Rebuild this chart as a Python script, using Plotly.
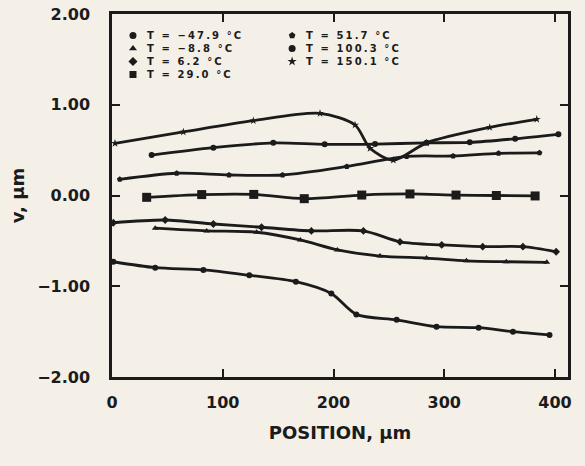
import plotly.graph_objects as go

# Position along the specimen (µm) and displacement v (µm) for each temperature
pos_m47 = [1.2, 39, 82.5, 124, 166, 198, 220.6, 257, 293, 331, 362, 395]
v_m47 = [-0.73, -0.795, -0.82, -0.88, -0.95, -1.08, -1.31, -1.37, -1.445, -1.457, -1.50, -1.537]

pos_m8 = [39, 85.5, 130.6, 170, 203.5, 242, 284, 320, 356, 392.5]
v_m8 = [-0.36, -0.39, -0.405, -0.49, -0.60, -0.667, -0.69, -0.72, -0.73, -0.736]

pos_6 = [1.2, 48, 91.5, 135, 180, 227, 260, 297.7, 334.7, 371, 401]
v_6 = [-0.30, -0.27, -0.314, -0.35, -0.39, -0.39, -0.51, -0.545, -0.564, -0.564, -0.62]

pos_29 = [31.3, 81, 128, 173.6, 225.5, 269, 310.6, 347, 382]
v_29 = [-0.02, 0.01, 0.012, -0.035, 0.005, 0.017, 0.005, 0.0, -0.005]

pos_51 = [7, 58.4, 105.6, 154, 212, 266, 308, 349, 386]
v_51 = [0.178, 0.245, 0.226, 0.226, 0.32, 0.43, 0.435, 0.465, 0.47]

pos_100 = [35.8, 91.5, 145.6, 192, 237.5, 284, 323, 364, 403]
v_100 = [0.446, 0.527, 0.58, 0.564, 0.567, 0.58, 0.586, 0.625, 0.674]

pos_150 = [2.7, 64.4, 127.6, 187.8, 219.4, 233, 254, 284, 341, 383.5]
v_150 = [0.575, 0.70, 0.824, 0.905, 0.777, 0.52, 0.39, 0.58, 0.75, 0.84]

labels = ["T = \u221247.9 \u00b0C", "T = \u22128.8 \u00b0C", "T = 6.2 \u00b0C", "T = 29.0 \u00b0C",
          "T = 51.7 \u00b0C", "T = 100.3 \u00b0C", "T = 150.1 \u00b0C"]
symbols = ["circle", "triangle-up", "diamond", "square", "pentagon", "circle", "star"]

x_ticks = [0, 100, 200, 300, 400]
y_ticks = [-2, -1, 0, 1, 2]

INK = "#1b1b1b"
BG = "#f4efe7"
FONT = "DejaVu Sans"

series = [(pos_m47, v_m47), (pos_m8, v_m8), (pos_6, v_6), (pos_29, v_29),
          (pos_51, v_51), (pos_100, v_100), (pos_150, v_150)]
marker_sizes = [6, 6, 6, 9, 6, 6, 6]

fig = go.Figure()
for (xs, ys), name, sym, ms in zip(series, labels, symbols, marker_sizes):
    fig.add_trace(go.Scatter(
        x=xs, y=ys, name=name, mode="lines+markers",
        line=dict(color=INK, width=2.8, shape="spline", smoothing=0.8),
        marker=dict(symbol=sym, size=ms, color=INK),
        showlegend=False,
    ))

# Legend drawn inside the frame: two columns, one multi-line text block each
PLOT_TOP, PLOT_H = 14, 363          # plot area top (px) and height (px)
LEG_TOP = 29                         # top of the first legend line (px)
LINE_H = 13                          # line height for a 10 px font (1.3 em)
col_x = [0.046, 0.395]
text_dx = 0.028
columns = [list(range(0, 4)), list(range(4, 7))]
for c, idx in enumerate(columns):
    for r, i in enumerate(idx):
        y_px = LEG_TOP + (r + 0.5) * LINE_H
        fig.add_trace(go.Scatter(
            x=[col_x[c]], y=[1 - (y_px - PLOT_TOP) / PLOT_H], mode="markers",
            marker=dict(symbol=symbols[i], size=7, color=INK),
            xaxis="x2", yaxis="y2", showlegend=False, hoverinfo="skip",
        ))
    lines = ['<span style="letter-spacing:2.1px">%s</span>' % labels[i] for i in idx]
    fig.add_annotation(
        x=col_x[c] + text_dx, y=1 - (LEG_TOP - PLOT_TOP) / PLOT_H,
        xref="paper", yref="paper",
        text="<br>".join(lines), showarrow=False,
        xanchor="left", yanchor="top", align="left", borderpad=0,
        font=dict(family=FONT, size=10, color=INK, weight="bold"),
    )

axis_common = dict(
    showline=True, linecolor=INK, linewidth=2.5, mirror="ticks",
    ticks="inside", ticklen=8, tickwidth=2, tickcolor=INK,
    showgrid=False, zeroline=False, automargin=False,
    tickfont=dict(family=FONT, size=16, color=INK, weight="bold"),
)

fig.update_layout(
    width=585, height=466,
    margin=dict(l=112, r=17, t=PLOT_TOP, b=466 - PLOT_TOP - PLOT_H),
    paper_bgcolor=BG, plot_bgcolor=BG,
    xaxis=dict(range=[0, 411.7], tickvals=x_ticks, ticklabelstandoff=9,
               title=dict(text="POSITION, \u00b5m", standoff=16,
                          font=dict(family=FONT, size=18, color=INK, weight="bold")),
               **axis_common),
    yaxis=dict(range=[-2, 2], tickvals=y_ticks, tickformat=".2f", ticklabelstandoff=16,
               title=dict(text="v, \u00b5m", standoff=8,
                          font=dict(family=FONT, size=18, color=INK, weight="bold")),
               **axis_common),
    xaxis2=dict(overlaying="x", range=[0, 1], visible=False),
    yaxis2=dict(overlaying="y", range=[0, 1], visible=False),
)

fig.write_html("out.html")
